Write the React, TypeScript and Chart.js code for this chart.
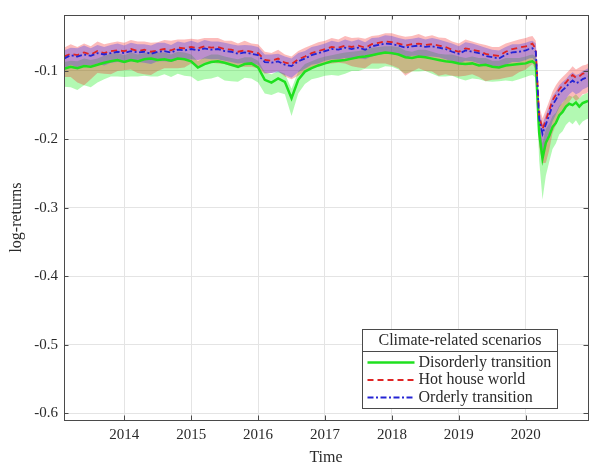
import React, { useEffect, useRef } from "react";
import { Chart, registerables } from "chart.js";

Chart.register(...registerables);

// Time axis (decimal years)
const dates = [
  2013.1, 2013.2, 2013.3, 2013.4, 2013.5, 2013.6, 2013.7, 2013.8, 2013.9,
  2014.0, 2014.1, 2014.2, 2014.3, 2014.4, 2014.5, 2014.6, 2014.7, 2014.8, 2014.9,
  2015.0, 2015.1, 2015.2, 2015.3, 2015.4, 2015.5, 2015.6, 2015.7, 2015.8, 2015.9,
  2016.0, 2016.1, 2016.2, 2016.3, 2016.4, 2016.5, 2016.6, 2016.7, 2016.8, 2016.9,
  2017.0, 2017.1, 2017.2, 2017.3, 2017.4, 2017.5, 2017.6, 2017.7, 2017.8, 2017.9,
  2018.0, 2018.1, 2018.2, 2018.3, 2018.4, 2018.5, 2018.6, 2018.7, 2018.8, 2018.9,
  2019.0, 2019.1, 2019.2, 2019.3, 2019.4, 2019.5, 2019.6, 2019.7, 2019.8, 2019.9,
  2020.0, 2020.05, 2020.1, 2020.15, 2020.2, 2020.25, 2020.3, 2020.35, 2020.4, 2020.45,
  2020.5, 2020.55, 2020.6, 2020.65, 2020.7, 2020.75, 2020.8, 2020.85, 2020.9, 2020.93,
];

const disorderly = [
  -0.097, -0.094, -0.096, -0.093, -0.094, -0.091, -0.088, -0.086, -0.084,
  -0.087, -0.084, -0.086, -0.083, -0.082, -0.084, -0.083, -0.085, -0.082, -0.083,
  -0.086, -0.095, -0.090, -0.087, -0.086, -0.088, -0.091, -0.094, -0.090, -0.089,
  -0.095, -0.113, -0.117, -0.111, -0.116, -0.140, -0.113, -0.101, -0.096, -0.092,
  -0.089, -0.086, -0.085, -0.084, -0.082, -0.080, -0.079, -0.077, -0.075, -0.073,
  -0.074, -0.076, -0.080, -0.081, -0.079, -0.080, -0.082, -0.084, -0.086, -0.087,
  -0.089, -0.090, -0.089, -0.092, -0.091, -0.094, -0.095, -0.092, -0.091, -0.090,
  -0.089, -0.087, -0.086, -0.090, -0.190, -0.228, -0.205, -0.195, -0.182, -0.176,
  -0.165, -0.160, -0.152, -0.148, -0.150, -0.146, -0.152, -0.147, -0.145, -0.144,
];

const hotHouse = [
  -0.079, -0.075, -0.077, -0.073, -0.076, -0.071, -0.074, -0.071, -0.070,
  -0.071, -0.068, -0.071, -0.069, -0.072, -0.070, -0.068, -0.070, -0.066, -0.067,
  -0.065, -0.067, -0.064, -0.066, -0.065, -0.068, -0.069, -0.072, -0.070, -0.072,
  -0.074, -0.084, -0.085, -0.082, -0.088, -0.090, -0.083, -0.079, -0.074, -0.071,
  -0.068, -0.065, -0.066, -0.063, -0.065, -0.063, -0.066, -0.061, -0.059, -0.057,
  -0.058, -0.060, -0.063, -0.061, -0.060, -0.062, -0.061, -0.063, -0.065, -0.069,
  -0.072, -0.067, -0.069, -0.071, -0.075, -0.077, -0.078, -0.072, -0.068, -0.066,
  -0.064, -0.062, -0.060, -0.068, -0.165, -0.185, -0.172, -0.158, -0.143, -0.135,
  -0.127, -0.121, -0.117, -0.111, -0.106, -0.110, -0.108, -0.104, -0.103, -0.101,
];

const orderly = [
  -0.082, -0.077, -0.079, -0.076, -0.078, -0.074, -0.076, -0.074, -0.072,
  -0.074, -0.071, -0.073, -0.072, -0.075, -0.072, -0.071, -0.073, -0.069, -0.070,
  -0.068, -0.070, -0.067, -0.069, -0.068, -0.071, -0.072, -0.075, -0.073, -0.075,
  -0.077, -0.087, -0.088, -0.086, -0.091, -0.093, -0.086, -0.082, -0.077, -0.074,
  -0.071, -0.068, -0.069, -0.066, -0.068, -0.066, -0.069, -0.064, -0.062, -0.060,
  -0.061, -0.063, -0.066, -0.064, -0.063, -0.065, -0.064, -0.066, -0.068, -0.072,
  -0.075, -0.070, -0.072, -0.074, -0.078, -0.080, -0.082, -0.076, -0.073, -0.072,
  -0.070, -0.068, -0.067, -0.072, -0.170, -0.192, -0.178, -0.165, -0.150, -0.142,
  -0.133, -0.128, -0.124, -0.118, -0.114, -0.118, -0.116, -0.112, -0.110, -0.108,
];

// Confidence band spreads (thousandths of log-return) above / below each line
const disorderlyUp = [
  10, 9, 10, 11, 10, 9, 10, 11, 10,
  10, 11, 10, 9, 10, 11, 10, 9, 10, 10,
  10, 9, 10, 11, 10, 9, 10, 11, 10, 9,
  10, 11, 12, 11, 12, 14, 12, 11, 10, 10,
  10, 9, 10, 11, 10, 9, 10, 11, 10, 9,
  10, 11, 10, 9, 10, 11, 10, 9, 10, 11,
  10, 9, 10, 11, 10, 9, 10, 11, 10, 9,
  10, 10, 10, 11, 18, 22, 20, 18, 16, 15,
  14, 13, 12, 12, 12, 12, 12, 12, 12, 12,
];
const disorderlyDown = [
  26, 30, 32, 28, 30, 26, 24, 22, 24,
  22, 24, 22, 24, 26, 24, 22, 24, 22, 24,
  22, 20, 22, 24, 22, 26, 24, 22, 20, 22,
  22, 20, 18, 20, 18, 26, 20, 18, 16, 18,
  18, 20, 22, 20, 18, 20, 18, 20, 22, 20,
  20, 22, 24, 20, 22, 20, 22, 24, 22, 20,
  22, 24, 22, 20, 24, 22, 20, 22, 24, 22,
  20, 20, 20, 20, 40, 60, 48, 38, 32, 30,
  28, 28, 27, 26, 28, 26, 28, 27, 26, 26,
];
const hotHouseUp = [
  13, 14, 12, 13, 12, 14, 13, 12, 13,
  12, 13, 14, 12, 13, 12, 13, 14, 12, 13,
  12, 13, 12, 14, 13, 12, 13, 12, 14, 12,
  13, 12, 11, 13, 12, 11, 12, 13, 12, 13,
  12, 13, 12, 14, 13, 12, 13, 12, 11, 12,
  13, 12, 13, 12, 14, 12, 13, 12, 13, 12,
  12, 13, 12, 11, 13, 12, 13, 12, 11, 12,
  12, 12, 11, 12, 14, 16, 15, 14, 13, 14,
  13, 12, 13, 12, 13, 12, 13, 12, 12, 12,
];
const hotHouseDown = [
  30, 34, 40, 48, 36, 32, 30, 34, 30,
  28, 30, 32, 36, 34, 30, 28, 26, 30, 28,
  24, 26, 24, 22, 24, 22, 24, 22, 24, 22,
  22, 20, 18, 18, 20, 22, 24, 22, 20, 22,
  22, 24, 22, 26, 28, 32, 30, 28, 30, 32,
  34, 36, 44, 40, 36, 38, 40, 44, 40, 38,
  36, 40, 36, 38, 40, 36, 34, 38, 40, 36,
  34, 32, 30, 30, 45, 50, 62, 58, 48, 44,
  40, 38, 36, 34, 32, 34, 32, 30, 30, 30,
];
const orderlyUp = [
  12, 11, 12, 13, 11, 12, 11, 12, 12,
  11, 12, 12, 11, 12, 13, 12, 11, 12, 11,
  12, 11, 12, 12, 11, 12, 11, 12, 11, 12,
  12, 11, 12, 11, 12, 11, 12, 11, 12, 11,
  11, 12, 11, 12, 11, 12, 11, 12, 11, 12,
  12, 11, 12, 11, 12, 11, 12, 12, 11, 12,
  11, 12, 12, 11, 12, 11, 12, 11, 12, 11,
  11, 11, 11, 12, 13, 14, 14, 13, 13, 12,
  12, 12, 12, 12, 12, 12, 12, 12, 12, 12,
];
const orderlyDown = [
  15, 14, 16, 15, 14, 15, 16, 14, 15,
  14, 15, 14, 16, 15, 14, 15, 14, 15, 14,
  15, 14, 15, 14, 15, 14, 15, 14, 15, 14,
  14, 16, 15, 16, 15, 17, 16, 15, 14, 15,
  14, 15, 14, 15, 14, 15, 14, 15, 14, 15,
  15, 14, 15, 14, 15, 14, 15, 14, 15, 14,
  14, 15, 14, 15, 14, 15, 14, 15, 14, 15,
  14, 14, 14, 15, 22, 28, 30, 26, 24, 22,
  20, 18, 17, 16, 16, 16, 16, 15, 15, 15,
];

const xTicks = [2014, 2015, 2016, 2017, 2018, 2019, 2020];
const yTicks = [-0.6, -0.5, -0.4, -0.3, -0.2, -0.1];
const xRange = [2013.1, 2020.93];
const yRange = [-0.61, -0.0183];

const seriesNames = ["Disorderly transition", "Hot house world", "Orderly transition"];
const legendTitle = "Climate-related scenarios";

const GREEN = "#1fe01f";
const RED = "#e02424";
const BLUE = "#2424d4";
const FONT = "'Liberation Serif', 'DejaVu Serif', serif";
const TEXT = "#2a2a2a";
const AXIS = "#4a4a4a";

const boxPlugin = {
  id: "boxAndTicks",
  afterDatasetsDraw(chart: any) {
    const { ctx, chartArea: a, scales } = chart;
    ctx.save();
    ctx.strokeStyle = AXIS;
    ctx.lineWidth = 1;
    const L = 4.5;
    ctx.beginPath();
    for (const t of xTicks) {
      const x = Math.round(scales.x.getPixelForValue(t)) + 0.5;
      ctx.moveTo(x, a.bottom);
      ctx.lineTo(x, a.bottom - L);
      ctx.moveTo(x, a.top);
      ctx.lineTo(x, a.top + L);
    }
    for (const t of yTicks) {
      const y = Math.round(scales.y.getPixelForValue(t)) + 0.5;
      ctx.moveTo(a.left, y);
      ctx.lineTo(a.left + L, y);
      ctx.moveTo(a.right, y);
      ctx.lineTo(a.right - L, y);
    }
    ctx.stroke();
    ctx.strokeRect(Math.round(a.left) + 0.5, Math.round(a.top) + 0.5, Math.round(a.right - a.left), Math.round(a.bottom - a.top));
    ctx.restore();
  },
};

const legendPlugin = {
  id: "boxLegend",
  afterDraw(chart: any) {
    const { ctx, chartArea: a } = chart;
    const w = 195;
    const h = 79;
    const x0 = Math.round(a.right - 226) + 0.5;
    const y0 = Math.round(a.bottom - 91) + 0.5;
    ctx.save();
    ctx.fillStyle = "#ffffff";
    ctx.fillRect(x0, y0, w, h);
    ctx.strokeStyle = AXIS;
    ctx.lineWidth = 1;
    ctx.strokeRect(x0, y0, w, h);
    ctx.beginPath();
    ctx.moveTo(x0, y0 + 22);
    ctx.lineTo(x0 + w, y0 + 22);
    ctx.stroke();
    ctx.fillStyle = TEXT;
    ctx.font = `16px ${FONT}`;
    ctx.textAlign = "center";
    ctx.textBaseline = "middle";
    ctx.fillText(legendTitle, x0 + w / 2, y0 + 11);
    const styles = [
      { color: GREEN, dash: [] as number[], width: 2.5 },
      { color: RED, dash: [6, 4], width: 2 },
      { color: BLUE, dash: [6, 2.5, 2, 2.5], width: 2 },
    ];
    ctx.textAlign = "left";
    seriesNames.forEach((name, i) => {
      const yy = y0 + 33 + i * 17.5;
      const s = styles[i];
      ctx.beginPath();
      ctx.setLineDash(s.dash);
      ctx.strokeStyle = s.color;
      ctx.lineWidth = s.width;
      ctx.moveTo(x0 + 5, yy);
      ctx.lineTo(x0 + 52, yy);
      ctx.stroke();
      ctx.setLineDash([]);
      ctx.fillStyle = TEXT;
      ctx.fillText(name, x0 + 56, yy);
    });
    ctx.restore();
  },
};

export default function App() {
  const ref = useRef<HTMLCanvasElement>(null);

  useEffect(() => {
    document.body.style.margin = "0";
    const pts = (ys: number[]) => dates.map((x, i) => ({ x, y: ys[i] }));
    const band = (ys: number[], w: number[], s: number) =>
      dates.map((x, i) => ({ x, y: ys[i] + (s * w[i]) / 1000 }));
    const none = "rgba(0,0,0,0)";
    const bandDs = (data: any, fill: any, bg: string, order: number) => ({
      data,
      fill,
      backgroundColor: bg,
      borderColor: none,
      borderWidth: 0,
      pointRadius: 0,
      tension: 0,
      order,
    });

    const chart = new Chart(ref.current as HTMLCanvasElement, {
      type: "line",
      data: {
        datasets: [
          bandDs(band(disorderly, disorderlyUp, 1), "+1", "rgba(0,235,0,0.30)", 10),
          bandDs(band(disorderly, disorderlyDown, -1), false, none, 10),
          bandDs(band(hotHouse, hotHouseUp, 1), "+1", "rgba(245,30,30,0.30)", 9),
          bandDs(band(hotHouse, hotHouseDown, -1), false, none, 9),
          bandDs(band(orderly, orderlyUp, 1), "+1", "rgba(40,40,245,0.30)", 8),
          bandDs(band(orderly, orderlyDown, -1), false, none, 8),
          {
            label: seriesNames[0],
            data: pts(disorderly),
            borderColor: GREEN,
            borderWidth: 2.5,
            pointRadius: 0,
            fill: false,
            tension: 0,
            order: 3,
          },
          {
            label: seriesNames[1],
            data: pts(hotHouse),
            borderColor: RED,
            borderWidth: 1.8,
            borderDash: [6, 4],
            pointRadius: 0,
            fill: false,
            tension: 0,
            order: 2,
          },
          {
            label: seriesNames[2],
            data: pts(orderly),
            borderColor: BLUE,
            borderWidth: 1.8,
            borderDash: [6, 2.5, 2, 2.5],
            pointRadius: 0,
            fill: false,
            tension: 0,
            order: 1,
          },
        ],
      },
      options: {
        animation: false,
        responsive: false,
        devicePixelRatio: 1,
        events: [],
        layout: { padding: { top: 7, right: 2, left: 0, bottom: 0 } },
        plugins: {
          legend: { display: false },
          tooltip: { enabled: false },
        },
        scales: {
          x: {
            type: "linear",
            min: xRange[0],
            max: xRange[1],
            afterBuildTicks: (s: any) => {
              s.ticks = xTicks.map((v) => ({ value: v }));
            },
            afterFit: (s: any) => {
              s.height = 53;
            },
            ticks: {
              callback: (v: any) => String(v),
              font: { family: FONT, size: 15 },
              color: TEXT,
              padding: 6,
              maxRotation: 0,
              autoSkip: false,
            },
            grid: { color: "#e4e4e4", lineWidth: 1, drawTicks: false },
            border: { display: false },
            title: {
              display: true,
              text: "Time",
              font: { family: FONT, size: 16 },
              color: TEXT,
              padding: { top: 0, bottom: 6 },
            },
          },
          y: {
            type: "linear",
            min: yRange[0],
            max: yRange[1],
            afterBuildTicks: (s: any) => {
              s.ticks = yTicks.map((v) => ({ value: v }));
            },
            afterFit: (s: any) => {
              s.width = 64;
            },
            ticks: {
              callback: (v: any) => String(Math.round(v * 10) / 10),
              font: { family: FONT, size: 15 },
              color: TEXT,
              padding: 6,
              autoSkip: false,
            },
            grid: { color: "#e4e4e4", lineWidth: 1, drawTicks: false },
            border: { display: false },
            title: {
              display: true,
              text: "log-returns",
              font: { family: FONT, size: 16 },
              color: TEXT,
              padding: { top: 7, bottom: 0 },
            },
          },
        },
      } as any,
      plugins: [boxPlugin, legendPlugin],
    });
    return () => chart.destroy();
  }, []);

  return <canvas ref={ref} width={590} height={473} style={{ display: "block" }} />;
}
